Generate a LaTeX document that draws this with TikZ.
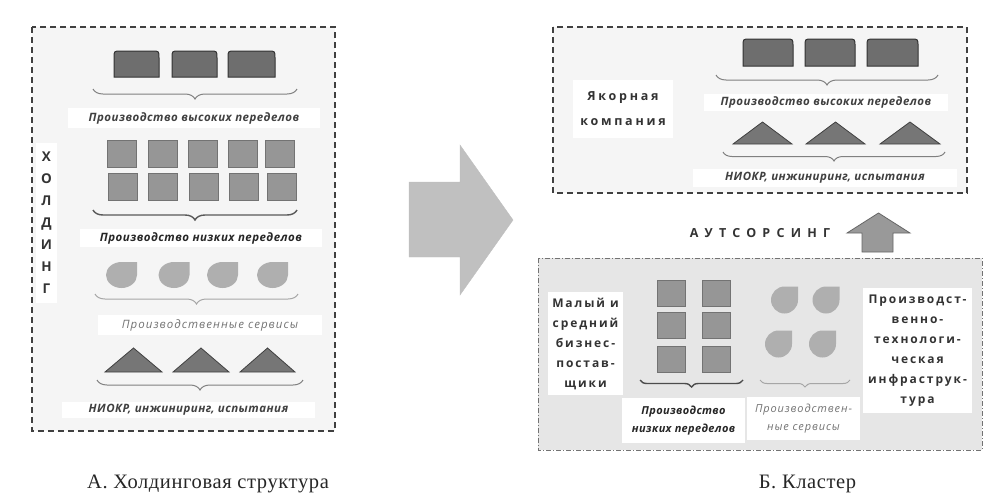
\documentclass[tikz,border=0pt]{standalone}
\usepackage{fontspec}
\setmainfont{Liberation Serif}
\setsansfont{Open Sans}
\usetikzlibrary{decorations.pathreplacing}

% block with rounded top (high stages)
\newcommand{\hiblock}[4]{%
  \draw[hiblk] (#1,#4) -- (#1,#2+7) .. controls (#1,#2) .. (#1+7,#2) -- (#3-7,#2) .. controls (#3,#2) .. (#3,#2+7) -- (#3,#4) -- cycle;}
% drop (services)
\newcommand{\servdrop}[4]{%
  \fill[srvdrop] (#1+#3,#2-#4) -- (#1+#3,#2) .. controls (#1+#3,#2+0.55*#4) and (#1+0.55*#3,#2+#4) .. (#1,#2+#4) .. controls (#1-0.55*#3,#2+#4) and (#1-#3,#2+0.55*#4) .. (#1-#3,#2) .. controls (#1-#3,#2-0.55*#4) and (#1-0.55*#3,#2-#4) .. (#1,#2-#4) -- cycle;}
% triangle (R&D)
\newcommand{\rdtri}[4]{%
  \draw[rdtri] (#1,#4) -- ({(#1+#3)/2},#2) -- (#3,#4) -- cycle;}

\begin{document}
\begin{tikzpicture}[x=1pt,y=-1pt,font=\sffamily,
    hiblk/.style={draw=black!80, fill=highfill, line width=1pt},
    lowsq/.style={draw=black!55, fill=lowfill, line width=0.8pt, inner sep=0pt},
    srvdrop/.style={fill=servfill},
    rdtri/.style={draw=black!75, fill=trifill, line width=0.8pt},
    brc/.style={decorate, decoration={brace, mirror, amplitude=#1}, line width=1pt},
    tag/.style={fill=white, inner sep=0pt, align=center},
    itlabel/.style={tag, text=black!75, font=\sffamily\bfseries\itshape\addfontfeature{LetterSpace=4}\fontsize{11.5}{13}\selectfont},
    srvlabel/.style={tag, text=black!55, font=\sffamily\itshape\addfontfeature{LetterSpace=9}\fontsize{11.5}{13}\selectfont},
    boldlabel/.style={tag, text=black!80, font=\sffamily\bfseries\addfontfeature{LetterSpace=16}\fontsize{12}{20}\selectfont},
    caption/.style={font=\rmfamily\addfontfeature{LetterSpace=3}\fontsize{20.5}{22}\selectfont, text=black!85}]
  % Define colors
  \definecolor{panelfill}{RGB}{245,245,245}
  \definecolor{clusterfill}{RGB}{230,230,230}
  \definecolor{highfill}{RGB}{110,110,110}
  \definecolor{lowfill}{RGB}{150,150,150}
  \definecolor{servfill}{RGB}{175,175,175}
  \definecolor{trifill}{RGB}{118,118,118}
  \definecolor{arrowfill}{RGB}{192,192,192}
  \useasboundingbox (0,0) rectangle (985,493);

  % A. Holding structure
  \draw[fill=panelfill, draw=black!75, line width=1.3pt, dash pattern=on 6pt off 4pt] (32,27) rectangle (335,431);
  \node[tag, text=black!80, minimum width=21, minimum height=160, font=\sffamily\bfseries\fontsize{13.5}{22}\selectfont] (holding) at (46.5,223) {Х\\О\\Л\\Д\\И\\Н\\Г};
  % high stages
  \hiblock{114}{51}{159}{77}
  \hiblock{172}{51}{217}{77}
  \hiblock{228}{51}{275}{77}
  \draw[brc=10pt, draw=black!50] (93,89) -- (297,89);
  \node[itlabel, minimum width=252, minimum height=20] (hiA) at (194,118) {Производство высоких переделов};
  % low stages
  \node[lowsq, minimum width=29, minimum height=27] (sqA1) at (122,153.5) {};
  \node[lowsq, minimum width=29, minimum height=27] (sqA2) at (162.5,153.5) {};
  \node[lowsq, minimum width=29, minimum height=27] (sqA3) at (203,153.5) {};
  \node[lowsq, minimum width=29, minimum height=27] (sqA4) at (242.5,153.5) {};
  \node[lowsq, minimum width=29, minimum height=27] (sqA5) at (280,153.5) {};
  \node[lowsq, minimum width=29, minimum height=27] (sqA6) at (122.5,187) {};
  \node[lowsq, minimum width=29, minimum height=27] (sqA7) at (163,187) {};
  \node[lowsq, minimum width=29, minimum height=27] (sqA8) at (204,187) {};
  \node[lowsq, minimum width=29, minimum height=27] (sqA9) at (244,187) {};
  \node[lowsq, minimum width=29, minimum height=27] (sqA10) at (282,187) {};
  \draw[brc=10pt, draw=black!65, line width=1.4pt] (93,210) -- (297,210);
  \node[itlabel, text=black!85, minimum width=242, minimum height=18] (lowA) at (201,238) {Производство низких переделов};
  % services
  \servdrop{121.5}{275}{15.5}{13}
  \servdrop{174}{275}{15.5}{13}
  \servdrop{222.5}{275}{15.5}{13}
  \servdrop{272.5}{275}{15.5}{13}
  \draw[brc=10pt, draw=black!35] (95,294) -- (298,294);
  \node[srvlabel, minimum width=224, minimum height=20] (servA) at (210,325) {Производственные сервисы};
  % R&D
  \rdtri{105}{348}{162}{372}
  \rdtri{173}{348}{229}{372}
  \rdtri{240}{348}{295}{372}
  \draw[brc=10pt, draw=black!50] (97,380) -- (303,380);
  \node[itlabel, minimum width=253, minimum height=16] (rdA) at (188.5,410) {НИОКР, инжиниринг, испытания};
  \node[caption] (captionA) at (208,484) {А. Холдинговая структура};

  % transition arrow
  \draw[fill=arrowfill, draw=black!25] (409,182) -- (460,182) -- (460,145) -- (513,220) -- (460,295) -- (460,257) -- (409,257) -- cycle;

  % B. Cluster: anchor company
  \draw[fill=panelfill, draw=black!75, line width=1.3pt, dash pattern=on 6pt off 4pt] (553,27) rectangle (967,193);
  \node[boldlabel, minimum width=100, minimum height=58, font=\sffamily\bfseries\addfontfeature{LetterSpace=22}\fontsize{12.5}{25}\selectfont] (anchor) at (623,109) {Якорная\\компания};
  \hiblock{743}{39}{793}{66}
  \hiblock{805}{39}{855}{66}
  \hiblock{867}{39}{918}{66}
  \draw[brc=10pt, draw=black!50] (716,75) -- (938,75);
  \node[itlabel, minimum width=244, minimum height=17] (hiB) at (826,102.5) {Производство высоких переделов};
  \rdtri{733}{122}{792}{144}
  \rdtri{806}{122}{865}{144}
  \rdtri{880}{122}{940}{144}
  \draw[brc=9pt, draw=black!50] (723,152) -- (945,152);
  \node[itlabel, minimum width=264, minimum height=18] (rdB) at (825,178) {НИОКР, инжиниринг, испытания};

  % outsourcing
  \node[text=black!80, font=\sffamily\bfseries\addfontfeature{LetterSpace=50}\fontsize{12.5}{14}\selectfont] (outsrc) at (760,233) {АУТСОРСИНГ};
  \draw[fill=black!40, draw=black!60, line width=0.8pt] (862,252) -- (862,233) -- (847,233) -- (878.5,213) -- (910,233) -- (893,233) -- (893,252) -- cycle;

  % small and medium business
  \draw[fill=clusterfill, draw=black!55, line width=1pt, dash pattern=on 5pt off 2pt on 1pt off 2pt] (538,258) rectangle (982,450);
  \node[boldlabel, minimum width=75, minimum height=103] (smb) at (585.5,343.5) {Малый и\\средний\\бизнес-\\постав-\\щики};
  \node[lowsq, minimum width=28, minimum height=26] (sqB1) at (671,293.5) {};
  \node[lowsq, minimum width=28, minimum height=26] (sqB2) at (716,293.5) {};
  \node[lowsq, minimum width=28, minimum height=26] (sqB3) at (671,325.5) {};
  \node[lowsq, minimum width=28, minimum height=26] (sqB4) at (716,325.5) {};
  \node[lowsq, minimum width=28, minimum height=26] (sqB5) at (671,359.5) {};
  \node[lowsq, minimum width=28, minimum height=26] (sqB6) at (716,359.5) {};
  \draw[brc=7pt, draw=black!70, line width=1.4pt] (640,380) -- (743,380);
  \node[itlabel, text=black!85, minimum width=123, minimum height=45, font=\sffamily\bfseries\itshape\addfontfeature{LetterSpace=3}\fontsize{11}{18}\selectfont] (lowB) at (683.5,420.5) {Производство\\низких переделов};
  \servdrop{784.5}{300}{13.5}{13.5}
  \servdrop{826}{300}{13.5}{13.5}
  \servdrop{778.5}{344}{13.5}{13.5}
  \servdrop{822.5}{344}{13.5}{13.5}
  \draw[brc=7pt, draw=black!35] (760,380) -- (850,380);
  \node[srvlabel, minimum width=113, minimum height=43, font=\sffamily\itshape\addfontfeature{LetterSpace=8}\fontsize{11}{18}\selectfont] (servB) at (803.5,418.5) {Производствен-\\ные сервисы};
  \node[boldlabel, minimum width=109, minimum height=125, font=\sffamily\bfseries\addfontfeature{LetterSpace=16}\fontsize{12}{20}\selectfont] (infra) at (917.5,350.5) {Производст-\\венно-\\технологи-\\ческая\\инфраструк-\\тура};
  \node[caption] (captionB) at (807.5,484) {Б. Кластер};
\end{tikzpicture}
\end{document}
